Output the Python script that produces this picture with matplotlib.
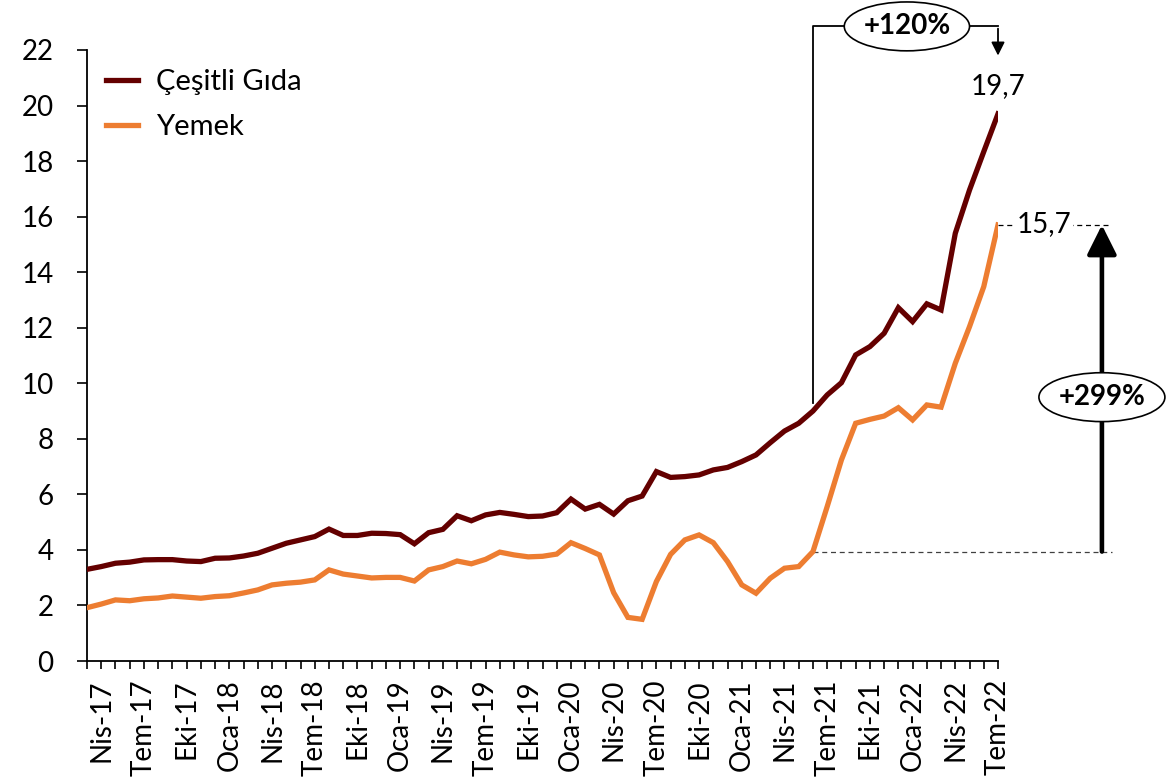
import matplotlib
matplotlib.use("Agg")
import matplotlib.pyplot as plt
from matplotlib.patches import Ellipse
import numpy as np

plt.rcParams['font.family'] = ['Lato', 'DejaVu Sans']

# Monthly data, Mar-17 .. Tem-22 (65 points)
cesitli_gida = [3.30, 3.40, 3.52, 3.56, 3.64, 3.65, 3.65, 3.60, 3.58, 3.70,
                3.71, 3.78, 3.88, 4.06, 4.24, 4.36, 4.48, 4.75, 4.52, 4.52,
                4.60, 4.59, 4.55, 4.22, 4.62, 4.74, 5.23, 5.05, 5.26, 5.35,
                5.28, 5.20, 5.22, 5.34, 5.83, 5.47, 5.64, 5.29, 5.77, 5.94,
                6.82, 6.61, 6.64, 6.70, 6.88, 6.97, 7.18, 7.42, 7.86, 8.28,
                8.56, 9.00, 9.58, 10.02, 11.02, 11.32, 11.80, 12.72, 12.22, 12.86,
                12.64, 15.40, 16.96, 18.34, 19.70]
yemek = [1.92, 2.05, 2.20, 2.17, 2.24, 2.27, 2.34, 2.30, 2.26, 2.32,
         2.35, 2.45, 2.56, 2.74, 2.80, 2.84, 2.92, 3.28, 3.13, 3.06,
         2.99, 3.01, 3.01, 2.88, 3.28, 3.40, 3.60, 3.50, 3.66, 3.92,
         3.82, 3.75, 3.77, 3.85, 4.26, 4.05, 3.82, 2.46, 1.57, 1.50,
         2.86, 3.84, 4.36, 4.54, 4.26, 3.58, 2.74, 2.44, 2.98, 3.34,
         3.40, 3.94, 5.56, 7.24, 8.56, 8.70, 8.82, 9.12, 8.68, 9.22,
         9.14, 10.72, 12.04, 13.48, 15.70]
tick_labels = ["Nis-17", "Tem-17", "Eki-17", "Oca-18", "Nis-18", "Tem-18", "Eki-18",
               "Oca-19", "Nis-19", "Tem-19", "Eki-19", "Oca-20", "Nis-20", "Tem-20",
               "Eki-20", "Oca-21", "Nis-21", "Tem-21", "Eki-21", "Oca-22", "Nis-22",
               "Tem-22"]
first_label_index = 1
label_step = 3
y_ticks = [0, 2, 4, 6, 8, 10, 12, 14, 16, 18, 20, 22]

W, H = 1171, 783
fig = plt.figure(figsize=(W / 100, H / 100), dpi=100)
ax = fig.add_axes([87 / W, (H - 661) / H, (998 - 87) / W, (661 - 50) / H])

x = np.arange(len(cesitli_gida))
dark = '#640000'
orange = '#ED7D31'
ax.plot(x, cesitli_gida, color=dark, lw=3.8, label='Çeşitli Gıda', solid_joinstyle='miter', zorder=3)
ax.plot(x, yemek, color=orange, lw=3.8, label='Yemek', solid_joinstyle='miter', zorder=3)

ax.set_xlim(0, len(x) - 1)
ax.set_ylim(0, 22)
ax.set_yticks(y_ticks)
ax.set_yticklabels([str(v) for v in y_ticks], fontsize=20)
ax.set_xticks(x)
labels = [''] * len(x)
for k, t in enumerate(tick_labels):
    labels[first_label_index + k * label_step] = t
ax.set_xticklabels(labels, rotation=90, fontsize=20)
ax.tick_params(axis='y', length=7, width=1.2, pad=17)
ax.tick_params(axis='x', length=6, width=1.2, pad=7)
for s in ['top', 'right']:
    ax.spines[s].set_visible(False)
for s in ['left', 'bottom']:
    ax.spines[s].set_linewidth(1.3)

leg = ax.legend(loc='upper left', bbox_to_anchor=(0.008, 0.988), frameon=False,
                borderaxespad=0.0, fontsize=21, handlelength=1.1, handletextpad=0.6,
                labelspacing=0.65)
for h in leg.get_lines():
    h.set_linewidth(3.8)

# +120% bracket
top_y = 22.85
ax.plot([51, 51, 53.2], [9.3, top_y, top_y], color='black', lw=1.3, clip_on=False, zorder=4)
ax.plot([62.0, 64], [top_y, top_y], color='black', lw=1.3, clip_on=False, zorder=4)
ax.annotate('', xy=(64, 21.7), xytext=(64, top_y + 0.02),
            arrowprops=dict(arrowstyle='-|>', color='black', lw=1.3, mutation_scale=20),
            annotation_clip=False)
e1 = Ellipse((57.6, top_y), 8.8, 1.76, facecolor='white', edgecolor='black', lw=1.2,
             clip_on=False, zorder=5)
ax.add_patch(e1)
ax.text(57.6, top_y, '+120%', ha='center', va='center', fontsize=20, fontweight='bold',
        zorder=6, clip_on=False)
ax.text(64, 20.72, '19,7', ha='center', va='center', fontsize=20, clip_on=False)

# +299% bracket
ax.plot([64, 71.9], [15.7, 15.7], color='black', lw=0.9, ls=(0, (4, 3)), clip_on=False, zorder=2)
ax.plot([51, 72.0], [3.94, 3.94], color='#404040', lw=0.9, ls=(0, (4, 3)), clip_on=False, zorder=2)
ax.text(67.25, 15.72, '15,7', ha='center', va='center', fontsize=20, clip_on=False,
        bbox=dict(facecolor='white', edgecolor='none', pad=1.0), zorder=4)
ax.annotate('', xy=(71.3, 15.7), xytext=(71.3, 3.94),
            arrowprops=dict(arrowstyle='-|>,head_length=0.9,head_width=0.45', color='black',
                            lw=3.3, mutation_scale=20, shrinkA=0, shrinkB=0),
            annotation_clip=False)
e2 = Ellipse((71.3, 9.5), 8.85, 1.76, facecolor='white', edgecolor='black', lw=1.2,
             clip_on=False, zorder=5)
ax.add_patch(e2)
ax.text(71.3, 9.5, '+299%', ha='center', va='center', fontsize=20, fontweight='bold',
        zorder=6, clip_on=False)

fig.savefig('out.png', dpi=100)
